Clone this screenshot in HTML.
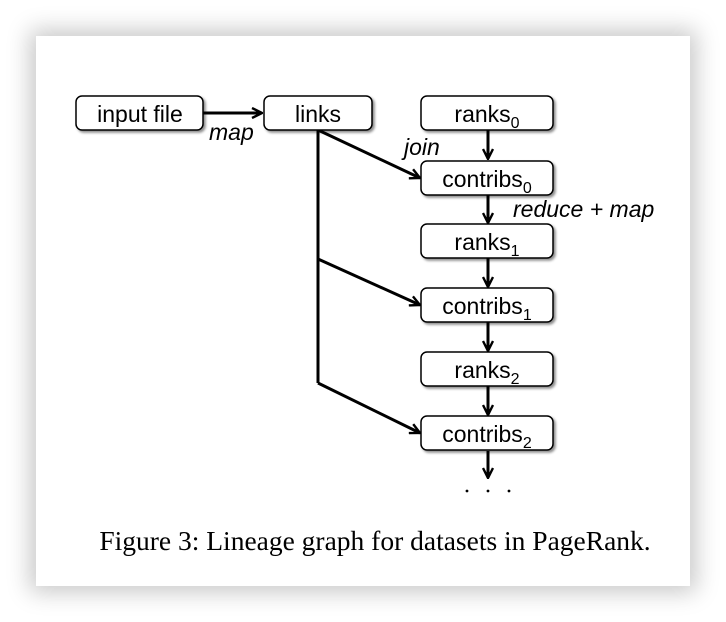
<!DOCTYPE html>
<html><head><style>
body{margin:0;background:#fff;}
#card{position:absolute;left:36px;top:36px;width:654px;height:550px;background:#fff;box-shadow:0 0 22px 6px rgba(0,0,0,0.22);}
svg{position:absolute;left:0;top:0;}
</style></head><body>
<div id="card"></div>
<svg width="726" height="622" font-family="Liberation Sans, Arial, sans-serif">
<defs>
<marker id="ah" viewBox="0 0 12 12" refX="11" refY="6" markerWidth="12" markerHeight="12" markerUnits="userSpaceOnUse" orient="auto">
<path d="M1,1 L11,6 L1,11" fill="none" stroke="#000" stroke-width="2.4"/>
</marker>
<filter id="sh" x="-10%" y="-20%" width="130%" height="150%"><feDropShadow dx="2" dy="2" stdDeviation="1.2" flood-opacity="0.45"/></filter>
</defs>
<g stroke="#000" stroke-width="3" fill="none">
<line x1="203" y1="113" x2="262" y2="113" marker-end="url(#ah)"/>
<polyline points="318,130 318,383"/>
<line x1="318" y1="130" x2="420" y2="178" marker-end="url(#ah)"/>
<line x1="318" y1="259" x2="420" y2="305" marker-end="url(#ah)"/>
<line x1="318" y1="383" x2="420" y2="433" marker-end="url(#ah)"/>
<line x1="488" y1="130" x2="488" y2="159" marker-end="url(#ah)"/>
<line x1="488" y1="195" x2="488" y2="223" marker-end="url(#ah)"/>
<line x1="488" y1="258" x2="488" y2="287" marker-end="url(#ah)"/>
<line x1="488" y1="322" x2="488" y2="351" marker-end="url(#ah)"/>
<line x1="488" y1="386" x2="488" y2="415" marker-end="url(#ah)"/>
<line x1="488" y1="451" x2="488" y2="478" marker-end="url(#ah)"/>
</g>
<g fill="#fff" stroke="#000" stroke-width="1.5" filter="url(#sh)">
<rect x="76" y="96" width="127" height="34" rx="6"/>
<rect x="264" y="96" width="108" height="34" rx="6"/>
<rect x="421" y="96" width="132" height="34" rx="6"/>
<rect x="421" y="161" width="132" height="34" rx="6"/>
<rect x="421" y="224" width="132" height="34" rx="6"/>
<rect x="421" y="288" width="132" height="34" rx="6"/>
<rect x="421" y="352" width="132" height="34" rx="6"/>
<rect x="421" y="416" width="132" height="34" rx="6"/>
</g>
<g font-size="23" text-anchor="middle" fill="#000">
<text x="140" y="122">input file</text>
<text x="318" y="122">links</text>
<text x="487" y="122">ranks<tspan font-size="16" dy="6">0</tspan></text>
<text x="487" y="187">contribs<tspan font-size="16" dy="6">0</tspan></text>
<text x="487" y="250">ranks<tspan font-size="16" dy="6">1</tspan></text>
<text x="487" y="314">contribs<tspan font-size="16" dy="6">1</tspan></text>
<text x="487" y="378">ranks<tspan font-size="16" dy="6">2</tspan></text>
<text x="487" y="442">contribs<tspan font-size="16" dy="6">2</tspan></text>
</g>
<g font-size="23" font-style="italic" fill="#000">
<text x="209" y="140">map</text>
<text x="404" y="155">join</text>
<text x="513" y="217">reduce + map</text>
</g>
<g fill="#000">
<circle cx="467" cy="491" r="1.4"/><circle cx="488" cy="491" r="1.4"/><circle cx="509" cy="491" r="1.4"/>
</g>
<text x="375" y="550" text-anchor="middle" font-family="Liberation Serif, Times New Roman, serif" font-size="27.5" fill="#000">Figure 3: Lineage graph for datasets in PageRank.</text>
</svg>
</body></html>
